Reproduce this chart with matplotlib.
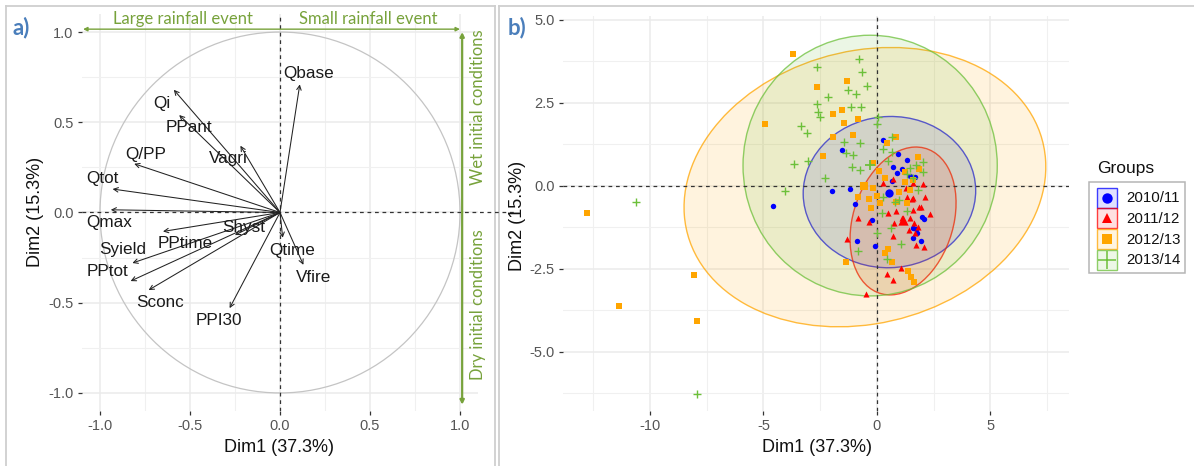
import matplotlib
matplotlib.use('Agg')
import matplotlib.pyplot as plt
import numpy as np
from matplotlib.patches import Ellipse, Rectangle, Circle
from matplotlib.colors import to_rgba

plt.rcParams['font.family'] = ['Liberation Sans', 'DejaVu Sans']

# ---------------- data: panel a (variables correlation circle) ----------------
var_names = ['Qbase', 'Qi', 'PPant', 'Vagri', 'Q/PP', 'Qtot', 'Qmax', 'Shyst',
             'PPtime', 'Syield', 'PPtot', 'Sconc', 'PPI30', 'Qtime', 'Vfire']
var_dim1 = [0.11, -0.59, -0.56, -0.22, -0.81, -0.93, -0.94, -0.25,
            -0.65, -0.82, -0.83, -0.73, -0.28, 0.015, 0.13]
var_dim2 = [0.71, 0.68, 0.54, 0.37, 0.27, 0.13, 0.015, -0.125,
            -0.105, -0.28, -0.38, -0.43, -0.53, -0.14, -0.29]

# ---------------- data: panel b (individuals) ----------------
groups = ['2010/11', '2011/12', '2012/13', '2013/14']

g1_x = [-1.56, -2.0, -1.19, -4.57, -0.97, -0.89, -0.09, 0.25, 0.72, 0.65, 0.87, 1.31,
        1.09, 1.45, 1.67, 0.94, 1.97, 2.09, 1.57, 1.7, 1.75, 1.6, 1.92, -0.2]
g1_y = [1.08, -0.15, -0.1, -0.61, -0.55, -1.65, -1.81, 1.38, 0.58, 0.15, 0.39, 0.78,
        0.5, 0.3, 0.26, 0.97, -0.95, -1.01, -1.28, -1.31, -1.43, -1.58, -1.65, -1.03]

g2_x = [-0.85, -0.35, -1.33, -0.5, 0.26, 0.5, 0.84, 0.74, 0.7, 1.31, 1.53, 1.84,
        1.96, 2.11, 2.03, 2.32, 1.47, 1.63, 1.82, 1.42, 1.67, 1.74, 2.07, 1.05,
        0.46, 0.7, 0.72, 1.28, 1.6, 0.84, 1.6, 1.57, 1.09]
g2_y = [-0.98, -1.08, -1.6, -3.26, 0.07, -0.81, -0.76, -1.11, -1.5, -0.33, -0.41, -0.64,
        -0.64, -0.34, 0.04, -0.84, -0.96, -1.11, -1.23, -1.33, -1.41, -1.78, -1.85, -2.48,
        -2.66, -2.85, 0.2, -0.08, -0.38, -0.46, -0.73, 0.09, -0.98]

g3_x = [-3.69, -1.31, -2.66, -1.56, -1.95, -1.44, -0.85, -4.93, -1.95, -1.07, -2.37, -0.16,
        -0.82, -0.34, -0.28, -1.35, -8.06, -7.92, -11.35, -12.79, -0.16, 0.35, 0.84, 0.45,
        1.80, 1.86, 1.23, 1.6, 1.45, 0.98, 0.84, 1.31, 0.35, 0.47, 0.65, 1.38, 1.48, 1.63,
        0.1, 1.23, -0.01, 0.13]
g3_y = [3.97, 3.17, 2.97, 2.29, 2.16, 1.9, 2.0, 1.85, 1.48, 1.53, 0.9, 0.68,
        -0.33, -0.41, -0.68, -2.3, -2.69, -4.07, -3.62, -0.83, -0.08, 0.24, 1.47, 1.3,
        0.86, 0.5, 0.43, 0.17, -0.13, -0.18, -0.5, -0.53, -2.04, -1.9, -2.29, -2.56, -2.76, -2.89,
        0.46, 0.12, -0.31, -0.51]

g4_x = [-0.78, -0.67, -2.63, -0.45, -1.26, -0.93, -2.14, -2.66, -2.59, -2.51, -1.16, -0.72,
        -3.36, -3.1, -1.44, -0.75, -1.37, -1.04, -3.03, -3.64, -1.11, -0.75, -2.29, -4.05,
        -10.62, -0.82, -7.92, 0.0, 0.0, 0.65, 0.25, 0.65, 0.5, 0.25, 0.79, 0.23, 0.6, 1.05,
        0.45, 1.45, 1.72, 2.04, 2.04, 1.31, 1.6, 1.8, 0.98, 1.31, 0.05]
g4_y = [3.82, 3.44, 3.59, 3.01, 2.89, 2.77, 2.67, 2.47, 2.23, 2.08, 2.37, 2.37,
        1.8, 1.6, 1.33, 1.3, 0.98, 0.93, 0.76, 0.66, 0.58, 0.48, 0.23, -0.15,
        -0.48, -1.96, -6.29, 1.86, -1.43, 1.46, 1.1, 1.03, 0.76, -0.33, -0.48, -0.81, -1.28, -1.74,
        -2.2, 0.53, 0.63, 0.73, 0.43, 0.35, 0.23, -0.14, -0.43, -0.77, 2.08]

group_x = [g1_x, g2_x, g3_x, g4_x]
group_y = [g1_y, g2_y, g3_y, g4_y]

# group means
mean_x = [0.54, 1.16, -0.57, -0.31]
mean_y = [-0.21, -1.03, -0.01, 0.62]

# confidence ellipses (center, full width, full height, rotation deg) in data units
ell_cx = [0.55, 1.15, -0.53, -0.30]
ell_cy = [-0.19, -1.06, -0.04, 0.61]
ell_w = [7.6, 5.1, 16.0, 11.2]
ell_h = [4.56, 3.96, 8.3, 7.86]
ell_ang = [1.0, 39.6, 6.0, 0.0]

# ---------------- style ----------------
colors = ['#0000ff', '#ff0000', '#ffa500', '#6cc03a']
markers = ['o', '^', 's', '+']
msizes = [3.9, 4.4, 3.7, 5.6]
mean_sizes = [6.0, 7.4, 6.2, 7.6]
green_note = '#77a23b'
panel_lbl = '#4a7ebb'

W, H = 1194, 466
fig = plt.figure(figsize=(W / 100, H / 100), dpi=100)


def ax_rect(l, t, r, b):
    return [l / W, 1 - b / H, (r - l) / W, (b - t) / H]


def style(ax, mx, mnx, my, mny, xl, yl):
    for s in ax.spines.values():
        s.set_visible(False)
    ax.set_xticks(mx)
    ax.set_xticklabels(xl)
    ax.set_xticks(mnx, minor=True)
    ax.set_yticks(my)
    ax.set_yticklabels(yl)
    ax.set_yticks(mny, minor=True)
    ax.grid(which='major', color='#ebebeb', lw=1.1)
    ax.grid(which='minor', color='#f0f0f0', lw=0.8)
    ax.tick_params(which='minor', length=0)
    ax.tick_params(which='major', length=3, width=0.9, color='#333333',
                   labelcolor='#555555', labelsize=10.5, direction='out', pad=3)
    ax.set_axisbelow(True)


# ---------------- panel a ----------------
axA = fig.add_axes(ax_rect(82, 14, 478, 411))
axA.set_xlim(-1.1, 1.1)
axA.set_ylim(-1.1, 1.1)
style(axA, [-1, -0.5, 0, 0.5, 1], [-0.75, -0.25, 0.25, 0.75],
      [-1, -0.5, 0, 0.5, 1], [-0.75, -0.25, 0.25, 0.75],
      ['-1.0', '-0.5', '0.0', '0.5', '1.0'], ['-1.0', '-0.5', '0.0', '0.5', '1.0'])

axA.add_patch(Circle((0, 0), 1.0, fill=False, edgecolor='#c4c4c4', lw=0.9, zorder=1))
axA.plot([-1.1, 1.3], [0, 0], color='#333333', ls=(0, (3, 3)), lw=0.9, zorder=2, clip_on=False)
axA.axvline(0, color='#333333', ls=(0, (3, 3)), lw=0.9, zorder=2)

label_offsets = [(0.05, 0.063), (-0.068, -0.074), (0.056, -0.068), (-0.069, -0.071),
                 (0.066, 0.052), (-0.054, 0.059), (-0.009, -0.07), (0.046, 0.042),
                 (0.124, -0.068), (-0.056, 0.077), (-0.126, 0.055), (0.063, -0.071),
                 (-0.058, -0.068), (0.055, -0.068), (0.055, -0.068)]
for name, x, y, (dx, dy) in zip(var_names, var_dim1, var_dim2, label_offsets):
    axA.annotate('', xy=(x, y), xytext=(0, 0),
                 arrowprops=dict(arrowstyle='->', color='#222222', lw=0.75,
                                 shrinkA=0, shrinkB=0, mutation_scale=8), zorder=3)
    axA.text(x + dx, y + dy, name, ha='center', va='center', fontsize=12.3,
             color='#1a1a1a', zorder=4)

# green interpretation arrows
axA.annotate('', xy=(-1.094, 1.016), xytext=(1.0, 1.016),
             arrowprops=dict(arrowstyle='<|-|>', color=green_note, lw=1.0,
                             shrinkA=0, shrinkB=0, mutation_scale=6),
             annotation_clip=False)
axA.annotate('', xy=(1.012, 1.0), xytext=(1.012, -1.065),
             arrowprops=dict(arrowstyle='<|-|>', color=green_note, lw=1.6,
                             shrinkA=0, shrinkB=0, mutation_scale=6),
             annotation_clip=False)
note_font = ['Lato', 'DejaVu Sans']
axA.text(-0.542, 1.073, 'Large rainfall event', ha='center', va='center', color=green_note,
         fontsize=12, family=note_font, clip_on=False)
axA.text(0.489, 1.073, 'Small rainfall event', ha='center', va='center', color=green_note,
         fontsize=12, family=note_font, clip_on=False)
axA.text(1.1, 0.586, 'Wet initial conditions', ha='center', va='center', rotation=90,
         color=green_note, fontsize=12, family=note_font, clip_on=False)
axA.text(1.1, -0.511, 'Dry initial conditions', ha='center', va='center', rotation=90,
         color=green_note, fontsize=12, family=note_font, clip_on=False)

# ---------------- panel b ----------------
axB = fig.add_axes(ax_rect(563, 16, 1069, 411))
axB.set_xlim(-13.83, 8.46)
axB.set_ylim(-6.79, 5.12)
style(axB, [-10, -5, 0, 5], [-12.5, -7.5, -2.5, 2.5, 7.5],
      [-5, -2.5, 0, 2.5, 5], [-6.25, -3.75, -1.25, 1.25, 3.75],
      ['-10', '-5', '0', '5'], ['-5.0', '-2.5', '0.0', '2.5', '5.0'])

for i, c in enumerate(colors):
    axB.add_patch(Ellipse((ell_cx[i], ell_cy[i]), ell_w[i], ell_h[i], angle=ell_ang[i],
                          facecolor=to_rgba(c, 0.13), edgecolor=to_rgba(c, 0.75),
                          lw=1.0, zorder=1))

axB.axhline(0, color='#333333', ls=(0, (3, 3)), lw=0.9, zorder=2)
axB.axvline(0, color='#333333', ls=(0, (3, 3)), lw=0.9, zorder=2)

for i, c in enumerate(colors):
    if markers[i] == '+':
        axB.scatter(group_x[i], group_y[i], marker='+', s=msizes[i] ** 2, color=c,
                    linewidths=1.0, zorder=3)
        axB.scatter([mean_x[i]], [mean_y[i]], marker='+', s=mean_sizes[i] ** 2, color=c,
                    linewidths=1.3, zorder=4)
    else:
        axB.scatter(group_x[i], group_y[i], marker=markers[i], s=msizes[i] ** 2, color=c,
                    linewidths=0, zorder=3)
        axB.scatter([mean_x[i]], [mean_y[i]], marker=markers[i], s=mean_sizes[i] ** 2,
                    color=c, linewidths=0, zorder=4)

# ---------------- overlay (pixel coordinates) ----------------
ov = fig.add_axes([0, 0, 1, 1])
ov.set_xlim(0, W)
ov.set_ylim(H, 0)
ov.axis('off')
ov.set_zorder(-1)

border = '#cfcfcf'
ov.plot([6, 6], [6, H], color=border, lw=1.3)
ov.plot([6, 495], [6, 6], color=border, lw=1.3)
ov.plot([495, 495], [6, H], color=border, lw=1.3)
ov.plot([499, 499], [6, H], color=border, lw=1.3)
ov.plot([499, W], [6, 6], color=border, lw=1.3)

ov.text(21, 28, 'a)', ha='center', va='center', color=panel_lbl, fontsize=16,
        fontweight='bold', family=note_font)
ov.text(517, 28, 'b)', ha='center', va='center', color=panel_lbl, fontsize=16,
        fontweight='bold', family=note_font)

ov.text(279.5, 448, 'Dim1 (37.3%)', ha='center', va='center', fontsize=13, color='#111111')
ov.text(35, 212, 'Dim2 (15.3%)', ha='center', va='center', rotation=90, fontsize=13,
        color='#111111')
ov.text(817, 448, 'Dim1 (37.3%)', ha='center', va='center', fontsize=13, color='#111111')
ov.text(518, 216, 'Dim2 (15.3%)', ha='center', va='center', rotation=90, fontsize=13,
        color='#111111')

# legend
lg = fig.add_axes([0, 0, 1, 1])
lg.set_xlim(0, W)
lg.set_ylim(H, 0)
lg.axis('off')
lg.text(1097, 169, 'Groups', ha='left', va='center', fontsize=12.5, color='#111111')
lg.add_patch(Rectangle((1089, 182), 96, 91, fill=False, edgecolor='#b5b5b5', lw=1.1))
for i, (lab, c) in enumerate(zip(groups, colors)):
    y0 = 187.5 + i * 20.8
    lg.add_patch(Rectangle((1097, y0), 20, 20, facecolor=to_rgba(c, 0.12),
                           edgecolor=to_rgba(c, 0.75), lw=1.0))
    if markers[i] == '+':
        lg.plot([1107], [y0 + 10], marker='+', color=c, ms=13, mew=1.1, ls='')
    else:
        lg.plot([1107], [y0 + 10], marker=markers[i], color=c, ms=7.5, mew=0, ls='')
    lg.text(1126, y0 + 10.5, lab, ha='left', va='center', fontsize=10.8, color='#111111')

fig.savefig('out.png', dpi=100)
